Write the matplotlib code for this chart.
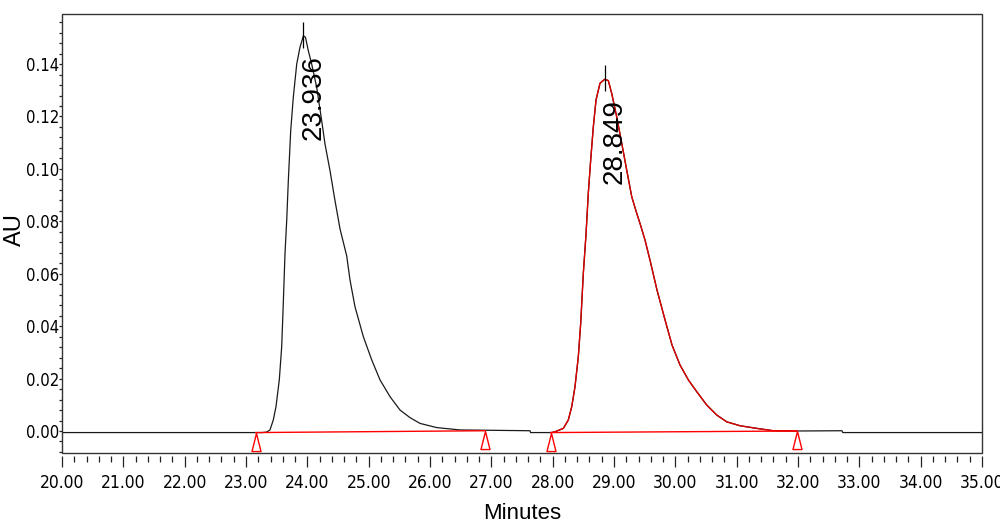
import numpy as np
import matplotlib
matplotlib.use("Agg")
import matplotlib.pyplot as plt
from matplotlib.path import Path
from matplotlib.patches import Rectangle

# detector trace (minutes, AU)
t_sig = [20.000, 23.158, 23.261, 23.338, 23.391, 23.445, 23.489, 23.543, 23.582, 23.608,
         23.636, 23.664, 23.690, 23.729, 23.771, 23.827, 23.880, 23.936, 23.970, 24.016,
         24.071, 24.153, 24.234, 24.288, 24.370, 24.451, 24.533, 24.642, 24.696, 24.777,
         24.913, 25.050, 25.185, 25.348, 25.511, 25.674, 25.837, 26.109, 26.489, 27.630,
         27.640, 27.968, 27.984, 28.038, 28.174, 28.255, 28.311, 28.364, 28.418, 28.457,
         28.500, 28.543, 28.581, 28.620, 28.663, 28.707, 28.772, 28.849, 28.907, 28.963,
         29.044, 29.126, 29.207, 29.289, 29.370, 29.424, 29.505, 29.587, 29.701, 29.832,
         29.946, 30.076, 30.212, 30.349, 30.512, 30.675, 30.838, 31.055, 31.327, 31.598,
         31.978, 32.717, 32.730, 35.000]
au_sig = [-0.0006, -0.0006, -0.0006, -0.0004, 0.0004, 0.0042, 0.0093, 0.0195, 0.0322, 0.0487,
          0.0678, 0.0805, 0.0955, 0.1146, 0.1273, 0.1400, 0.1464, 0.1508, 0.1502, 0.1451,
          0.1400, 0.1311, 0.1184, 0.1095, 0.0993, 0.0879, 0.0771, 0.0668, 0.0576, 0.0474,
          0.0360, 0.0271, 0.0195, 0.0131, 0.0080, 0.0051, 0.0029, 0.0013, 0.0004, 0.0001,
          -0.0006, -0.0006, -0.0006, -0.0003, 0.0010, 0.0042, 0.0093, 0.0169, 0.0283, 0.0411,
          0.0602, 0.0748, 0.0907, 0.1034, 0.1161, 0.1263, 0.1327, 0.1342, 0.1337, 0.1288,
          0.1199, 0.1098, 0.0996, 0.0894, 0.0831, 0.0792, 0.0729, 0.0652, 0.0538, 0.0424,
          0.0328, 0.0252, 0.0195, 0.0150, 0.0099, 0.0061, 0.0035, 0.0020, 0.0010, 0.0001,
          0.0000, 0.0001, -0.0006, -0.0006]

# peaks
peak_rt = [23.936, 28.849]
peak_lbl = ["23.936", "28.849"]

# integration baselines
bl_start = [23.158, 27.968]
bl_end = [26.902, 31.978]
bl_start_au = [-0.0006, -0.0006]
bl_end_au = [0.0001, 0.0000]

t = np.array(t_sig)
au = np.array(au_sig)

fig = plt.figure(figsize=(10, 5.27), dpi=100)
ax = fig.add_axes([0.062, 0.1404, 0.92, 0.833])

ax.plot(t, au, color="#1a1a1a", lw=0.9, zorder=2)

# second peak drawn in red
m = (t >= bl_start[1]) & (t <= bl_end[1])
ax.plot(t[m], au[m], color="#dd0000", lw=1.0, zorder=3)

# baselines and triangle markers
tri = Path([(0, 0), (-0.25, -1), (0.25, -1), (0, 0)],
           [Path.MOVETO, Path.LINETO, Path.LINETO, Path.CLOSEPOLY])
for i in range(len(bl_start)):
    ax.plot([bl_start[i], bl_end[i]], [bl_start_au[i], bl_end_au[i]],
            color="red", lw=1.0, zorder=4)
    ax.plot([bl_start[i], bl_end[i]], [bl_start_au[i], bl_end_au[i]],
            ls="none", marker=tri, ms=26, mfc="white", mec="red", mew=1.0,
            zorder=5, clip_on=False)

# peak labels and apex ticks
for rt, lbl in zip(peak_rt, peak_lbl):
    h = np.interp(rt, t, au)
    ax.vlines(rt, h - 0.0045, h + 0.0053, color="black", lw=0.9, zorder=6)
    ax.annotate(lbl, xy=(rt, h), xytext=(7, -14), textcoords="offset points",
                rotation=90, ha="center", va="top", fontsize=20,
                family=["Liberation Sans", "DejaVu Sans"], zorder=7)

# ticks sit slightly below the frame (set before styling, it resets ticks)
ax.spines["bottom"].set_position(("outward", 2.5))
for s in ax.spines.values():
    s.set_color("none")
ax.add_patch(Rectangle((0, 0), 1, 1, transform=ax.transAxes, fill=False,
                       lw=1.0, ec="#333333", clip_on=False, zorder=10))

ax.set_xlim(20, 35)
ax.set_ylim(-0.0084, 0.1591)

ax.set_xticks(np.arange(20, 35.01, 1.0))
ax.set_xticks(np.arange(20, 35.01, 0.2), minor=True)
ax.set_xticklabels(["%.2f" % v for v in np.arange(20, 35.01, 1.0)])
ax.set_yticks(np.arange(0, 0.141, 0.02))
ax.set_yticks(np.arange(-0.008, 0.158, 0.004), minor=True)
ax.set_yticklabels(["%.2f" % v for v in np.arange(0, 0.141, 0.02)])

ax.tick_params(axis="x", which="major", direction="out", length=7.7, width=0.9, pad=5, color="#222")
ax.tick_params(axis="x", which="minor", direction="out", length=4.1, width=0.9, color="#222")
ax.tick_params(axis="y", which="major", direction="out", length=2.5, width=0.9, pad=-0.5, color="#222")
ax.tick_params(axis="y", which="minor", direction="out", length=2.5, width=0.9, color="#222")

for lab in ax.get_xticklabels():
    lab.set_family(["DejaVu Sans"])
    lab.set_stretch("condensed")
    lab.set_fontsize(12.5)
for lab in ax.get_yticklabels():
    lab.set_family(["DejaVu Sans"])
    lab.set_stretch("condensed")
    lab.set_fontsize(12)

ax.set_xlabel("Minutes", fontsize=16, family=["Liberation Sans", "DejaVu Sans"], labelpad=8)
ax.set_ylabel("AU", fontsize=17, family=["Liberation Sans", "DejaVu Sans"])
ax.yaxis.set_label_coords(-0.039, 0.51)

fig.savefig("out.png", dpi=100)
